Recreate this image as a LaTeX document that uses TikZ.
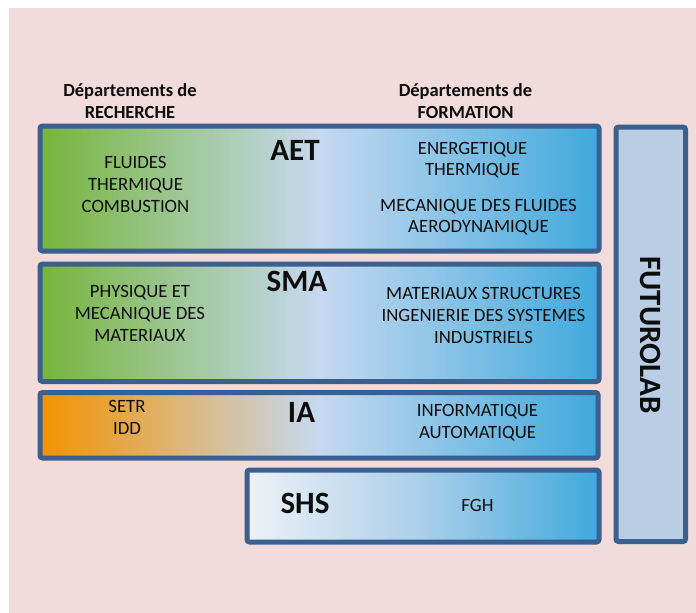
\documentclass[tikz,border=0pt]{standalone}
\usepackage{fontspec}
\setmainfont{Carlito}
\definecolor{bord}{HTML}{3B5F8E}
\definecolor{pinkbg}{HTML}{F2DCDB}
\definecolor{grn}{HTML}{76B53B}
\definecolor{pale}{HTML}{C6D9F0}
\definecolor{blu}{HTML}{3FA9DC}
\definecolor{org}{HTML}{F39200}
\definecolor{wht}{HTML}{EEF1F6}
\definecolor{shsmid}{HTML}{A9CFEA}
\definecolor{flab}{HTML}{B9CDE5}
\definecolor{txtc}{HTML}{0D0D0D}
\pgfdeclarehorizontalshading{greenblue}{100bp}{color(0bp)=(grn); color(25bp)=(grn); color(50bp)=(pale); color(75bp)=(blu); color(100bp)=(blu)}
\pgfdeclarehorizontalshading{orangeblue}{100bp}{color(0bp)=(org); color(25bp)=(org); color(50bp)=(pale); color(75bp)=(blu); color(100bp)=(blu)}
\pgfdeclarehorizontalshading{whiteblue}{100bp}{color(0bp)=(wht); color(25bp)=(wht); color(50bp)=(shsmid); color(75bp)=(blu); color(100bp)=(blu)}
\begin{document}
\begin{tikzpicture}[x=1pt,y=-1pt,
  box/.style={draw=bord, line width=5pt, rounded corners=2.5pt, inner sep=0pt, rectangle},
  body/.style={font=\fontsize{18.8}{22}\selectfont, anchor=base, inner sep=0pt, text=txtc},
  hdr/.style={font=\bfseries\fontsize{18.5}{22}\selectfont, anchor=base, inner sep=0pt, text=txtc},
  big/.style={font=\bfseries\fontsize{31}{36}\selectfont, anchor=base, inner sep=0pt, text=txtc}]
\useasboundingbox (0,0) rectangle (696,613);
\fill[white] (0,0) rectangle (696,613);
\fill[pinkbg] (9,8) rectangle (696,613);

% boxes
\node[box, shading=greenblue, shading angle=0, minimum width=559pt, minimum height=125pt] (aet) at (319.5,188.5) {};
\node[box, shading=greenblue, shading angle=0, minimum width=559pt, minimum height=117.5pt] (sma) at (319.5,322.75) {};
\node[box, shading=orangeblue, shading angle=0, minimum width=558pt, minimum height=65.5pt] (ia) at (319,425.25) {};
\node[box, shading=whiteblue, shading angle=0, minimum width=352pt, minimum height=72pt] (shs) at (423,506) {};
\node[box, fill=flab, minimum width=69.5pt, minimum height=414.5pt] (futuro) at (650.75,334.25) {};

% headers
\node[hdr] (rech1) at (130,96) {Départements de};
\node[hdr] (rech2) at (130,118) {RECHERCHE};
\node[hdr] (form1) at (465.5,96) {Départements de};
\node[hdr] (form2) at (465.5,118) {FORMATION};

% AET
\node[big] (aetlab) at (295,160) {AET};
\node[body] (aetr1) at (135.5,168.5) {FLUIDES};
\node[body] (aetr2) at (135.5,190.5) {THERMIQUE};
\node[body] (aetr3) at (135.5,212.5) {COMBUSTION};
\node[body] (aetf1) at (472.5,154) {ENERGETIQUE};
\node[body] (aetf2) at (472.5,175.5) {THERMIQUE};
\node[body] (aetf3) at (478.5,211) {MECANIQUE DES FLUIDES};
\node[body] (aetf4) at (478.5,232.5) {AERODYNAMIQUE};

% SMA
\node[big] (smalab) at (297,291.5) {SMA};
\node[body] (smar1) at (140,297.5) {PHYSIQUE ET};
\node[body] (smar2) at (140,319.5) {MECANIQUE DES};
\node[body] (smar3) at (140,341.5) {MATERIAUX};
\node[body] (smaf1) at (483.5,299) {MATERIAUX STRUCTURES};
\node[body] (smaf2) at (483.5,321) {INGENIERIE DES SYSTEMES};
\node[body] (smaf3) at (483.5,343) {INDUSTRIELS};

% IA
\node[big] (ialab) at (301.5,422.5) {IA};
\node[body] (iar1) at (127,412.5) {SETR};
\node[body] (iar2) at (127,434) {IDD};
\node[body] (iaf1) at (477.5,416) {INFORMATIQUE};
\node[body] (iaf2) at (477.5,438) {AUTOMATIQUE};

% SHS
\node[big] (shslab) at (305,513.5) {SHS};
\node[body] (shsf1) at (477.5,511.5) {FGH};

% FUTUROLAB
\node[font=\bfseries\fontsize{31}{36}\selectfont, text=txtc, rotate=-90, inner sep=0pt] (futlab) at (650.5,335) {FUTUROLAB};
\end{tikzpicture}
\end{document}
